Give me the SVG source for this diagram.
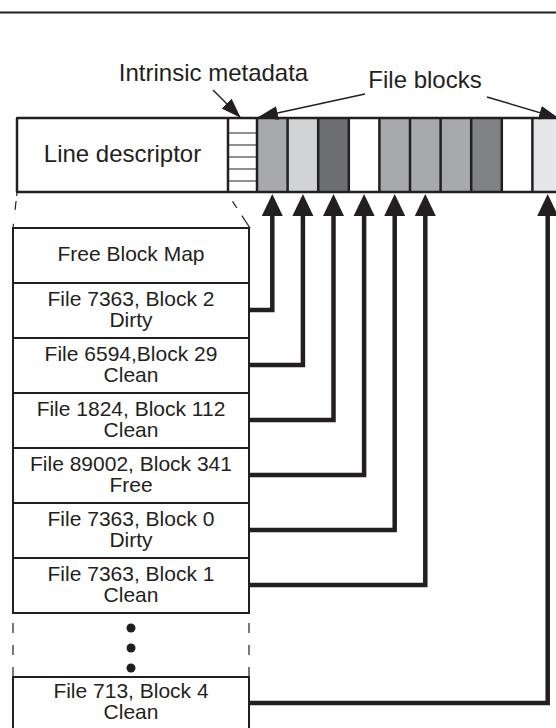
<svg xmlns="http://www.w3.org/2000/svg" width="556" height="728" viewBox="0 0 556 728">
<style>
text{font-family:"Liberation Sans",Arial,Helvetica,sans-serif;fill:#231f20;text-anchor:middle}
.lbl{font-size:24px}
.row{font-size:21px}
.box{fill:#fff;stroke:#231f20;stroke-width:2}
.div{stroke:#231f20;stroke-width:2.5}
.thin{stroke:#231f20;stroke-width:1}
.dash{stroke:#231f20;stroke-width:1.2;fill:none}
.conn{fill:none;stroke:#231f20;stroke-width:4.5;stroke-linejoin:miter;marker-end:url(#big)}
.ptr{fill:none;stroke:#231f20;stroke-width:1.5;marker-end:url(#small)}
</style>
<defs>
<marker id="big" markerUnits="userSpaceOnUse" viewBox="0 -11 23 22" refX="1" refY="0" markerWidth="23" markerHeight="22" orient="auto">
<path d="M0,-10.5 L22,0 L0,10.5 z" fill="#231f20"/>
</marker>
<marker id="small" markerUnits="userSpaceOnUse" viewBox="0 -8 21 16" refX="19" refY="0" markerWidth="21" markerHeight="16" orient="auto">
<path d="M0,-7 L20,0 L0,7 z" fill="#231f20"/>
</marker>
</defs>
<line x1="0" y1="12.5" x2="556" y2="12.5" stroke="#231f20" stroke-width="1.8"/>
<g id="labels">
<text class="lbl" x="213.5" y="81">Intrinsic metadata</text>
<text class="lbl" x="425" y="88">File blocks</text>
</g>
<g id="line-descriptor">
<rect class="box" x="17" y="118" width="211" height="74"/>
<text class="lbl" x="122.5" y="162">Line descriptor</text>
</g>
<g id="intrinsic-metadata">
<rect x="228" y="118" width="29" height="74" fill="#fff"/>
<line class="thin" x1="228" y1="133" x2="257" y2="133"/>
<line class="thin" x1="228" y1="145" x2="257" y2="145"/>
<line class="thin" x1="228" y1="157" x2="257" y2="157"/>
<line class="thin" x1="228" y1="169" x2="257" y2="169"/>
<line class="thin" x1="228" y1="181" x2="257" y2="181"/>
</g>
<g id="file-blocks">
<rect x="257" y="118" width="30.6" height="74" fill="#a7a9ac"/>
<rect x="287.6" y="118" width="30.6" height="74" fill="#d1d3d4"/>
<rect x="318.2" y="118" width="30.6" height="74" fill="#6d6e71"/>
<rect x="348.8" y="118" width="30.6" height="74" fill="#ffffff"/>
<rect x="379.4" y="118" width="30.6" height="74" fill="#a7a9ac"/>
<rect x="410" y="118" width="30.6" height="74" fill="#a7a9ac"/>
<rect x="440.6" y="118" width="30.6" height="74" fill="#a7a9ac"/>
<rect x="471.2" y="118" width="30.6" height="74" fill="#808285"/>
<rect x="501.8" y="118" width="30.6" height="74" fill="#ffffff"/>
<rect x="532.4" y="118" width="30.6" height="74" fill="#e6e7e8"/>
</g>
<g id="bar-outline">
<line class="div" x1="17" y1="118" x2="556" y2="118"/>
<line class="div" x1="17" y1="192" x2="556" y2="192"/>
<line class="div" x1="17" y1="118" x2="17" y2="192"/>
<line class="div" x1="228" y1="118" x2="228" y2="192"/>
<line class="div" x1="257" y1="118" x2="257" y2="192"/>
<line class="div" x1="287.6" y1="118" x2="287.6" y2="192"/>
<line class="div" x1="318.2" y1="118" x2="318.2" y2="192"/>
<line class="div" x1="348.8" y1="118" x2="348.8" y2="192"/>
<line class="div" x1="379.4" y1="118" x2="379.4" y2="192"/>
<line class="div" x1="410" y1="118" x2="410" y2="192"/>
<line class="div" x1="440.6" y1="118" x2="440.6" y2="192"/>
<line class="div" x1="471.2" y1="118" x2="471.2" y2="192"/>
<line class="div" x1="501.8" y1="118" x2="501.8" y2="192"/>
<line class="div" x1="532.4" y1="118" x2="532.4" y2="192"/>
</g>
<g id="expansion">
<line class="dash" x1="17" y1="193" x2="13" y2="228" stroke-dasharray="3 5 9 14 8"/>
<line class="dash" x1="227" y1="193" x2="250" y2="228" stroke-dasharray="0 10 8 9 20"/>
<line class="dash" x1="13" y1="623" x2="13" y2="677" stroke-dasharray="10 12"/>
<line class="dash" x1="249" y1="623" x2="249" y2="677" stroke-dasharray="10 12"/>
<circle cx="131" cy="628" r="4.5" fill="#231f20"/>
<circle cx="131" cy="648" r="4.5" fill="#231f20"/>
<circle cx="131" cy="668" r="4.5" fill="#231f20"/>
</g>
<g id="free-block-map">
<rect class="box" x="13" y="228" width="236" height="55"/>
<text class="row" x="131" y="261">Free Block Map</text>
</g>
<g id="entry-7363-2">
<rect class="box" x="13" y="283" width="236" height="55"/>
<text class="row" x="131" y="305.5">File 7363, Block 2</text>
<text class="row" x="131" y="326.5">Dirty</text>
</g>
<g id="entry-6594-29">
<rect class="box" x="13" y="338" width="236" height="55"/>
<text class="row" x="131" y="360.5">File 6594,Block 29</text>
<text class="row" x="131" y="381.5">Clean</text>
</g>
<g id="entry-1824-112">
<rect class="box" x="13" y="393" width="236" height="55"/>
<text class="row" x="131" y="415.5">File 1824, Block 112</text>
<text class="row" x="131" y="436.5">Clean</text>
</g>
<g id="entry-89002-341">
<rect class="box" x="13" y="448" width="236" height="55"/>
<text class="row" x="131" y="470.5">File 89002, Block 341</text>
<text class="row" x="131" y="491.5">Free</text>
</g>
<g id="entry-7363-0">
<rect class="box" x="13" y="503" width="236" height="55"/>
<text class="row" x="131" y="525.5">File 7363, Block 0</text>
<text class="row" x="131" y="546.5">Dirty</text>
</g>
<g id="entry-7363-1">
<rect class="box" x="13" y="558" width="236" height="55"/>
<text class="row" x="131" y="580.5">File 7363, Block 1</text>
<text class="row" x="131" y="601.5">Clean</text>
</g>
<g id="entry-713-4">
<rect class="box" x="13" y="677" width="236" height="70"/>
<text class="row" x="131" y="698">File 713, Block 4</text>
<text class="row" x="131" y="719">Clean</text>
</g>
<g id="connectors">
<line class="ptr" x1="213" y1="90" x2="240" y2="117"/>
<line class="ptr" x1="365" y1="94" x2="259" y2="117"/>
<line class="ptr" x1="487" y1="97" x2="558" y2="118"/>
<path class="conn" d="M249,310 H272.3 V215"/>
<path class="conn" d="M249,365 H302.9 V215"/>
<path class="conn" d="M249,420 H333.5 V215"/>
<path class="conn" d="M249,475 H364.1 V215"/>
<path class="conn" d="M249,530 H394.7 V215"/>
<path class="conn" d="M249,585 H425.3 V215"/>
<path class="conn" d="M249,703 H547.7 V215"/>
</g>
</svg>
